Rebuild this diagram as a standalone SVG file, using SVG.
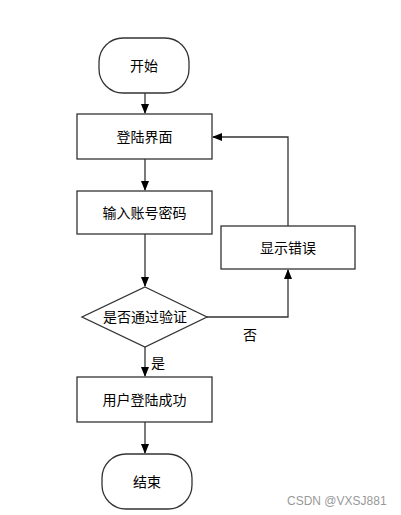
<svg xmlns="http://www.w3.org/2000/svg" width="401" height="515" viewBox="0 0 401 515">
<style>
.shape{fill:#fff;stroke:#333;stroke-width:1.3}
.line{fill:none;stroke:#333;stroke-width:1.3}
.t{font-family:"Liberation Sans","Noto Sans CJK SC",sans-serif;font-size:14px;fill:#000;text-anchor:middle;dominant-baseline:central}
.wm{font-family:"Liberation Sans","Noto Sans CJK SC",sans-serif;font-size:12px;fill:#999;text-anchor:start}
</style>
<defs>
<marker id="arr" markerWidth="10" markerHeight="10" refX="9" refY="5" orient="auto" markerUnits="userSpaceOnUse">
<path d="M0,1 L10,5 L0,9 Z" fill="#000"/>
</marker>
</defs>
<rect width="401" height="515" fill="#fff"/>
<g id="connectors">
<line class="line" x1="145" y1="93" x2="145" y2="113" marker-end="url(#arr)"/>
<line class="line" x1="145" y1="159" x2="145" y2="190" marker-end="url(#arr)"/>
<line class="line" x1="145" y1="234" x2="145" y2="286" marker-end="url(#arr)"/>
<line class="line" x1="145" y1="347" x2="145" y2="376" marker-end="url(#arr)"/>
<line class="line" x1="145" y1="422" x2="145" y2="453" marker-end="url(#arr)"/>
<polyline class="line" points="207,317 288,317 288,270" marker-end="url(#arr)"/>
<polyline class="line" points="288,226 288,137 213,137" marker-end="url(#arr)"/>
<text class="t" x="250" y="335">否</text>
<text class="t" x="158" y="363">是</text>
</g>
<g id="start">
<rect class="shape" x="99" y="38" width="90" height="55" rx="24" ry="24"/>
<text class="t" x="144" y="66">开始</text>
</g>
<g id="login">
<rect class="shape" x="77" y="114" width="135" height="45"/>
<text class="t" x="144.5" y="137">登陆界面</text>
</g>
<g id="input">
<rect class="shape" x="77" y="191" width="135" height="43"/>
<text class="t" x="144.5" y="213">输入账号密码</text>
</g>
<g id="error">
<rect class="shape" x="221" y="226" width="134" height="43"/>
<text class="t" x="288" y="248">显示错误</text>
</g>
<g id="decision">
<polygon class="shape" points="145,287 207,317 145,347 82,317"/>
<text class="t" x="145" y="317">是否通过验证</text>
</g>
<g id="success">
<rect class="shape" x="77" y="377" width="135" height="45"/>
<text class="t" x="144.5" y="400">用户登陆成功</text>
</g>
<g id="end">
<rect class="shape" x="102" y="454" width="90" height="55" rx="24" ry="24"/>
<text class="t" x="147" y="482">结束</text>
</g>
<text class="wm" x="287" y="505">CSDN @VXSJ881</text>
</svg>
